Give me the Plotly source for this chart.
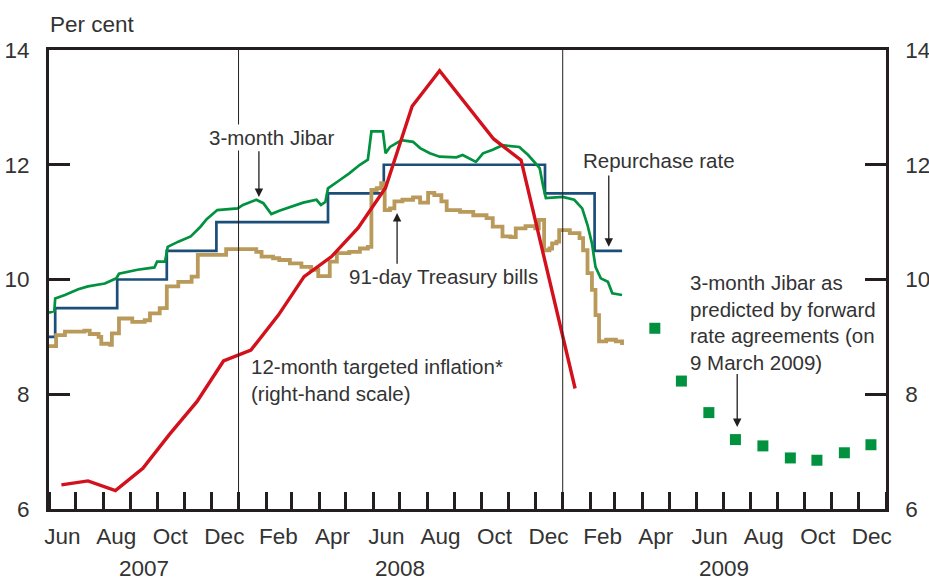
import plotly.graph_objects as go

# ---------------- data ----------------
jibar_dates = ["2007-06-01", "2007-06-07", "2007-06-08", "2007-06-19", "2007-07-04", "2007-07-15",
               "2007-08-03", "2007-08-16", "2007-08-19", "2007-09-09", "2007-09-28", "2007-10-01",
               "2007-10-10", "2007-10-13", "2007-10-25", "2007-11-08", "2007-11-19", "2007-11-26",
               "2007-12-08", "2007-12-31", "2008-01-06", "2008-01-21", "2008-01-29", "2008-02-07",
               "2008-02-16", "2008-02-28", "2008-03-14", "2008-03-29", "2008-04-03", "2008-04-08",
               "2008-04-11", "2008-04-24", "2008-05-05", "2008-05-17", "2008-05-26", "2008-05-30",
               "2008-06-12", "2008-06-15", "2008-06-20", "2008-07-03", "2008-07-16", "2008-07-24",
               "2008-08-04", "2008-08-15", "2008-09-03", "2008-09-10", "2008-09-25", "2008-10-03",
               "2008-10-14", "2008-10-25", "2008-11-13", "2008-11-23", "2008-11-30", "2008-12-06",
               "2008-12-10", "2008-12-13", "2009-01-01", "2009-01-14", "2009-01-23", "2009-01-29",
               "2009-02-03", "2009-02-07", "2009-02-13", "2009-02-21", "2009-02-26", "2009-03-09"]
jibar_values = [9.42, 9.45, 9.67, 9.73, 9.83, 9.88,
                9.93, 10.02, 10.10, 10.17, 10.21, 10.31,
                10.31, 10.57, 10.66, 10.75, 10.92, 11.05,
                11.21, 11.24, 11.30, 11.39, 11.33, 11.14,
                11.20, 11.26, 11.34, 11.39, 11.30, 11.35,
                11.59, 11.73, 11.85, 12.00, 12.09, 12.58,
                12.58, 12.20, 12.31, 12.43, 12.40, 12.29,
                12.20, 12.14, 12.13, 12.17, 12.05, 12.20,
                12.26, 12.34, 12.31, 12.17, 12.05, 11.94,
                11.62, 11.42, 11.44, 11.39, 11.24, 10.95,
                10.63, 10.22, 10.02, 9.96, 9.76, 9.73]

repo_dates = ["2007-06-01", "2007-06-08", "2007-08-17", "2007-10-12", "2007-12-07",
              "2008-04-11", "2008-06-13", "2008-12-12", "2009-02-06", "2009-03-09"]
repo_values = [9.0, 9.5, 10.0, 10.5, 11.0, 11.5, 12.0, 11.5, 10.5, 10.5]

tbill_dates = ["2007-06-01", "2007-06-09", "2007-06-19", "2007-07-11", "2007-07-17", "2007-07-27",
               "2007-07-30", "2007-08-09", "2007-08-11", "2007-08-19", "2007-09-03", "2007-09-17",
               "2007-09-23", "2007-10-04", "2007-10-12", "2007-10-25", "2007-11-09", "2007-11-16",
               "2007-12-18", "2008-01-21", "2008-01-27", "2008-02-09", "2008-02-16", "2008-02-28",
               "2008-03-12", "2008-03-23", "2008-03-31", "2008-04-13", "2008-04-21", "2008-05-05",
               "2008-05-17", "2008-05-26", "2008-05-30", "2008-06-05", "2008-06-10", "2008-06-14",
               "2008-06-20", "2008-06-25", "2008-07-04", "2008-07-16", "2008-07-24", "2008-08-02",
               "2008-08-09", "2008-08-17", "2008-08-23", "2008-09-07", "2008-09-22", "2008-10-07",
               "2008-10-14", "2008-10-25", "2008-11-03", "2008-11-09", "2008-11-20", "2008-12-01",
               "2008-12-05", "2008-12-11", "2008-12-17", "2008-12-20", "2008-12-25", "2008-12-28",
               "2009-01-09", "2009-01-20", "2009-01-24", "2009-01-29", "2009-02-03", "2009-02-07",
               "2009-02-11", "2009-02-19", "2009-03-02", "2009-03-09"]
tbill_values = [8.84, 9.03, 9.09, 9.11, 9.05, 9.00,
                8.88, 8.86, 9.06, 9.32, 9.26, 9.29,
                9.41, 9.50, 9.88, 9.96, 10.05, 10.43,
                10.53, 10.48, 10.40, 10.37, 10.34, 10.28,
                10.22, 10.17, 10.06, 10.31, 10.46, 10.48,
                10.54, 10.57, 11.56, 11.59, 11.68, 11.21,
                11.24, 11.36, 11.39, 11.43, 11.34, 11.51,
                11.47, 11.36, 11.21, 11.18, 11.12, 11.07,
                10.92, 10.75, 10.74, 10.89, 10.93, 10.89,
                11.04, 10.51, 10.54, 10.63, 10.66, 10.86,
                10.81, 10.72, 10.51, 10.11, 9.82, 9.38,
                8.92, 8.95, 8.92, 8.86]

inflation_dates = ["2007-06-15", "2007-07-15", "2007-08-15", "2007-09-15", "2007-10-15",
                   "2007-11-15", "2007-12-15", "2008-01-15", "2008-02-15", "2008-03-15",
                   "2008-04-15", "2008-05-15", "2008-06-15", "2008-07-15", "2008-08-15",
                   "2008-09-15", "2008-10-15", "2008-11-15", "2008-12-15", "2009-01-15"]
inflation_values = [6.42, 6.49, 6.32, 6.71, 7.30, 7.87, 8.58, 8.77, 9.38, 10.05,
                    10.40, 10.90, 11.60, 13.02, 13.64, 13.03, 12.45, 12.08, 10.15, 8.10]

fra_dates = ["2009-04-15", "2009-05-15", "2009-06-15", "2009-07-15", "2009-08-15",
             "2009-09-15", "2009-10-15", "2009-11-15", "2009-12-15"]
fra_values = [9.15, 8.23, 7.68, 7.21, 7.10, 6.89, 6.85, 6.98, 7.12]

month_tick_dates = ["2007-06-16", "2007-08-16", "2007-10-16", "2007-12-16", "2008-02-15",
                    "2008-04-16", "2008-06-16", "2008-08-16", "2008-10-16", "2008-12-16",
                    "2009-02-15", "2009-04-16", "2009-06-16", "2009-08-16", "2009-10-16",
                    "2009-12-16"]
month_tick_labels = ["Jun", "Aug", "Oct", "Dec", "Feb", "Apr", "Jun", "Aug", "Oct", "Dec",
                     "Feb", "Apr", "Jun", "Aug", "Oct", "Dec"]
year_label_dates = ["2007-09-16", "2008-07-01", "2009-07-02"]
year_labels = ["2007", "2008", "2009"]
y_ticks = [6, 8, 10, 12, 14]

# ---------------- styling ----------------
FONT = "Liberation Sans, Arial, sans-serif"
TXT = "#333333"
AX = "#231f20"
GREEN = "#00923f"
BLUE = "#1b4f7a"
GOLD = "#b99a5b"
RED = "#d2111c"

fig = go.Figure()
fig.add_trace(go.Scatter(x=repo_dates, y=repo_values, mode="lines", line_shape="hv",
                         line=dict(color=BLUE, width=2.7), name="Repurchase rate"))
fig.add_trace(go.Scatter(x=tbill_dates, y=tbill_values, mode="lines", line_shape="hv",
                         line=dict(color=GOLD, width=3.8), name="91-day Treasury bills"))
fig.add_trace(go.Scatter(x=jibar_dates, y=jibar_values, mode="lines",
                         line=dict(color=GREEN, width=2.7), name="3-month Jibar"))
fig.add_trace(go.Scatter(x=inflation_dates, y=inflation_values, mode="lines", yaxis="y2",
                         line=dict(color=RED, width=3.4), name="12-month targeted inflation"))
fig.add_trace(go.Scatter(x=fra_dates, y=fra_values, mode="markers",
                         marker=dict(color=GREEN, size=11, symbol="square"),
                         name="FRA"))

# year separators
for d in ["2008-01-01", "2009-01-01"]:
    fig.add_shape(type="line", xref="x", yref="paper", x0=d, x1=d, y0=0, y1=1,
                  line=dict(color=AX, width=1), layer="above")

ann = []
def label(x, y, text, xanchor="left", bg=None):
    a = dict(x=x, y=y, xref="x", yref="y", text=text, showarrow=False, xanchor=xanchor,
             yanchor="middle", align="left", font=dict(family=FONT, size=20.5, color=TXT))
    if bg:
        a["bgcolor"] = bg
    ann.append(a)

def arrow(x, y_tail, y_head):
    ann.append(dict(x=x, y=y_head, ax=x, ay=y_tail, xref="x", yref="y", axref="x", ayref="y",
                    text="", showarrow=True, arrowhead=2, arrowsize=1.3, arrowwidth=1.3,
                    arrowcolor=AX, standoff=0, startstandoff=0))

label("2008-02-08", 12.47, "3-month Jibar", xanchor="center", bg="white")
arrow("2008-01-24", 12.26, 11.44)
label("2008-05-03", 10.05, "91-day Treasury bills")
arrow("2008-06-28", 10.25, 11.16)
label("2009-01-22", 12.08, "Repurchase rate")
arrow("2009-02-22", 11.84, 10.57)
label("2009-05-22", 9.25, "3-month Jibar as<br>predicted by forward<br>rate agreements (on<br>9 March 2009)")
arrow("2009-07-17", 8.38, 7.43)
label("2008-01-13", 8.24, "12-month targeted inflation*<br>(right-hand scale)")

for d, t in zip(year_label_dates, year_labels):
    ann.append(dict(x=d, y=-0.1307, xref="x", yref="paper", text=t, showarrow=False,
                    xanchor="center", yanchor="middle",
                    font=dict(family=FONT, size=22.5, color=TXT)))
ann.append(dict(x=-0.001, y=1.0545, xref="paper", yref="paper", text="Per cent", showarrow=False,
                xanchor="left", yanchor="middle", font=dict(family=FONT, size=22.5, color=TXT)))

yax = dict(range=[6, 14], tickvals=y_ticks, ticks="inside", ticklen=21, tickwidth=2.5,
           tickcolor=AX, showgrid=False, zeroline=False, showline=True, linecolor=AX,
           tickfont=dict(family=FONT, size=22.5, color=TXT), ticklabelstandoff=12,
           automargin=False)

fig.update_layout(
    width=929, height=580,
    margin=dict(l=49, r=43, t=50, b=71, autoexpand=False),
    paper_bgcolor="white", plot_bgcolor="white",
    showlegend=False,
    xaxis=dict(type="date", range=["2007-06-01", "2010-01-01"],
               tickmode="array", tickvals=month_tick_dates, ticktext=month_tick_labels,
               ticks="", showgrid=False, zeroline=False, automargin=False,
               showline=True, linecolor=AX, linewidth=2.6, mirror=True,
               tickfont=dict(family=FONT, size=22.5, color=TXT), ticklabelstandoff=5,
               minor=dict(ticks="inside", ticklen=17, tickwidth=2.5, tickcolor=AX,
                          dtick="M1", tick0="2007-06-01", showgrid=False)),
    yaxis=dict(**yax, linewidth=3),
    yaxis2=dict(**yax, linewidth=2.6, overlaying="y", side="right"),
    annotations=ann,
)

fig.write_html("out.html", config={"displayModeBar": False},
               post_script="document.body.style.margin='0px';document.body.style.overflow='hidden';")
